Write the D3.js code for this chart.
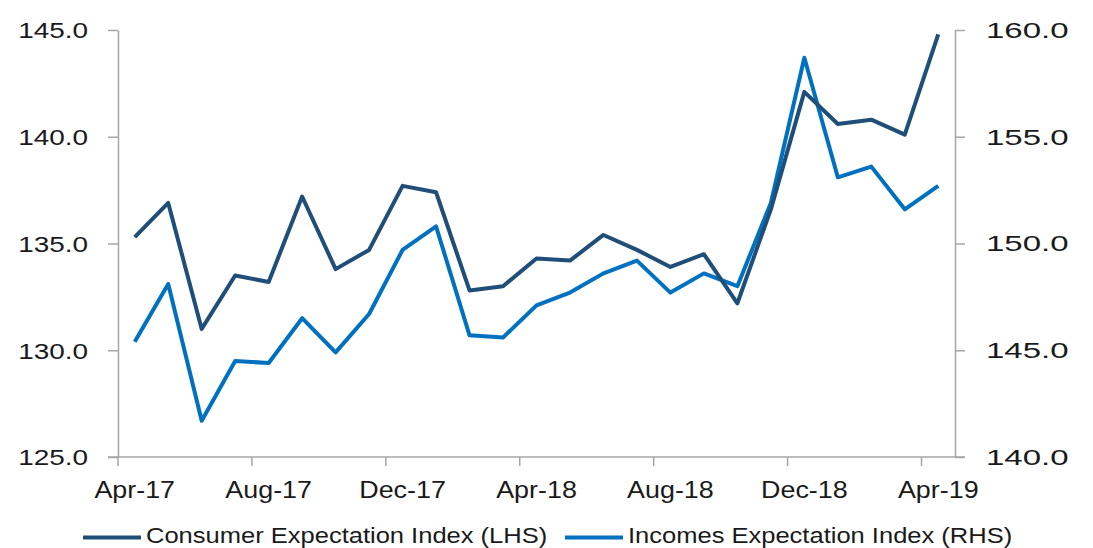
<!DOCTYPE html>
<html>
<head>
<meta charset="utf-8">
<script src="https://cdn.jsdelivr.net/npm/d3@7"></script>
<style>
  body { margin: 0; background: #fff; }
  svg { display: block; font-family: "Liberation Sans", Arial, sans-serif; }
</style>
</head>
<body>
<svg id="chart" width="1093" height="548"></svg>
<script>
const months = [
  "Apr-17", "May-17", "Jun-17", "Jul-17", "Aug-17", "Sep-17", "Oct-17", "Nov-17",
  "Dec-17", "Jan-18", "Feb-18", "Mar-18", "Apr-18", "May-18", "Jun-18", "Jul-18",
  "Aug-18", "Sep-18", "Oct-18", "Nov-18", "Dec-18", "Jan-19", "Feb-19", "Mar-19", "Apr-19"
];
const tickMonths = ["Apr-17", "Aug-17", "Dec-17", "Apr-18", "Aug-18", "Dec-18", "Apr-19"];

// Consumer Expectation Index, left axis
const consumer = [
  135.3, 136.9, 131.0, 133.5, 133.2, 137.2, 133.8, 134.7,
  137.7, 137.4, 132.8, 133.0, 134.3, 134.2, 135.4, 134.7,
  133.9, 134.5, 132.2, 136.6, 142.1, 140.6, 140.8, 140.1, 144.8
];
// Incomes Expectation Index, right axis
const incomes = [
  145.4, 148.1, 141.7, 144.5, 144.4, 146.5, 144.9, 146.7,
  149.7, 150.8, 145.7, 145.6, 147.1, 147.7, 148.6, 149.2,
  147.7, 148.6, 148.0, 151.9, 158.7, 153.1, 153.6, 151.6, 152.7
];

const leftTicks = [125, 130, 135, 140, 145];
const rightTicks = [140, 145, 150, 155, 160];

const svg = d3.select("#chart");
const plotLeft = 118, plotRight = 955, plotTop = 30, plotBottom = 457;
const axisColor = "#a6a6a6";
const textColor = "#1a1a1a";
const darkBlue = "#1f4e79";
const lightBlue = "#0070c0";

const x = d3.scaleBand().domain(months).range([plotLeft, plotRight]).padding(0);
const yL = d3.scaleLinear().domain([125, 145]).range([plotBottom, plotTop]);
const yR = d3.scaleLinear().domain([140, 160]).range([plotBottom, plotTop]);
const fmt = d3.format(".1f");

// left axis
const gL = svg.append("g")
  .attr("transform", `translate(${plotLeft},0)`)
  .call(d3.axisLeft(yL).tickValues(leftTicks).tickFormat(fmt).tickSize(10).tickSizeOuter(0));
gL.select(".domain").attr("stroke", axisColor).attr("stroke-width", 1.5);
gL.selectAll(".tick line").attr("stroke", axisColor).attr("stroke-width", 1.5);
gL.selectAll(".tick text")
  .attr("x", null).attr("dy", null)
  .attr("fill", textColor).attr("font-size", "22px")
  .attr("dominant-baseline", "central")
  .attr("text-anchor", "end")
  .attr("transform", "translate(-30,0) scale(1.27,1)");

// right axis
const gR = svg.append("g")
  .attr("transform", `translate(${plotRight},0)`)
  .call(d3.axisRight(yR).tickValues(rightTicks).tickFormat(fmt).tickSize(10).tickSizeOuter(0));
gR.select(".domain").attr("stroke", axisColor).attr("stroke-width", 1.5);
gR.selectAll(".tick line").attr("stroke", axisColor).attr("stroke-width", 1.5);
gR.selectAll(".tick text")
  .attr("x", null).attr("dy", null)
  .attr("fill", textColor).attr("font-size", "22px")
  .attr("dominant-baseline", "central")
  .attr("text-anchor", "start")
  .attr("transform", "translate(31,0) scale(1.5,1)");

// bottom axis: ticks at category edges, labels at category centres
const gB = svg.append("g")
  .attr("transform", `translate(0,${plotBottom})`)
  .call(d3.axisBottom(x).tickValues(tickMonths).tickSize(9).tickSizeOuter(0));
gB.select(".domain").remove();
gB.selectAll(".tick line")
  .attr("x1", -x.bandwidth() / 2).attr("x2", -x.bandwidth() / 2)
  .attr("stroke", axisColor).attr("stroke-width", 1.5);
gB.selectAll(".tick text")
  .attr("y", null).attr("dy", null)
  .attr("fill", textColor).attr("font-size", "24px")
  .attr("transform", "translate(0,41) scale(1.12,1)");
svg.append("line")
  .attr("x1", plotLeft - 10).attr("x2", plotRight + 10)
  .attr("y1", plotBottom).attr("y2", plotBottom)
  .attr("stroke", axisColor).attr("stroke-width", 1.5);

const cx = d => x(d) + x.bandwidth() / 2;

svg.append("path")
  .datum(incomes)
  .attr("fill", "none")
  .attr("stroke", lightBlue)
  .attr("stroke-width", 4)
  .attr("stroke-linejoin", "round")
  .attr("d", d3.line().x((d, i) => cx(months[i])).y(d => yR(d)));

svg.append("path")
  .datum(consumer)
  .attr("fill", "none")
  .attr("stroke", darkBlue)
  .attr("stroke-width", 4)
  .attr("stroke-linejoin", "round")
  .attr("d", d3.line().x((d, i) => cx(months[i])).y(d => yL(d)));

// legend
const legend = [
  { label: "Consumer Expectation Index (LHS)", color: darkBlue, x: 83 },
  { label: "Incomes Expectation Index (RHS)", color: lightBlue, x: 565 }
];
legend.forEach(l => {
  svg.append("line")
    .attr("x1", l.x).attr("x2", l.x + 58)
    .attr("y1", 537.5).attr("y2", 537.5)
    .attr("stroke", l.color).attr("stroke-width", 4);
  svg.append("text")
    .attr("transform", `translate(${l.x + 63},543) scale(1.16,1)`)
    .attr("fill", textColor).attr("font-size", "22px")
    .text(l.label);
});
</script>
</body>
</html>
